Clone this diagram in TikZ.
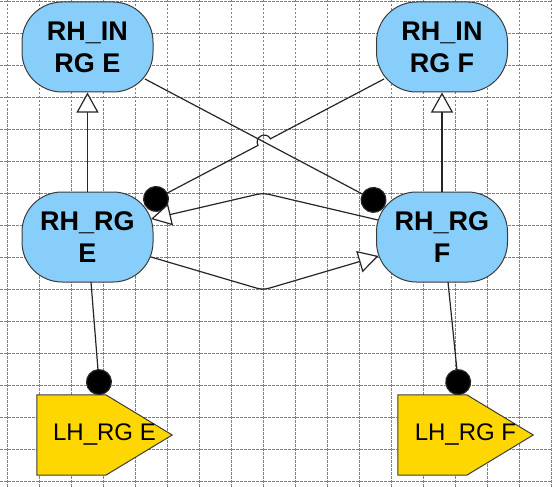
\documentclass[tikz,border=0pt]{standalone}
\usepackage{fontspec}
\setmainfont{Liberation Sans}
\usetikzlibrary{arrows.meta,calc,backgrounds}
\definecolor{rhblue}{RGB}{135,206,250}
\definecolor{lhgold}{RGB}{255,215,0}
\definecolor{edgegray}{RGB}{60,60,60}
\begin{document}
\begin{tikzpicture}[x=1pt,y=-1pt,
  rhbox/.style={draw=edgegray, line width=1pt, fill=rhblue, rounded corners=40pt,
    minimum width=131pt, minimum height=90pt, inner sep=0pt, align=center,
    font=\fontsize{27}{32}\selectfont\bfseries},
  lhbox/.style={minimum width=135pt, minimum height=80pt, inner sep=0pt,
    font=\fontsize{24}{28}\selectfont},
  lhshape/.style={fill=lhgold, draw=edgegray, line width=1pt},
  link/.style={draw=black!85, line width=1.2pt},
  gen/.style={link, -{Triangle[length=20pt,width=22pt,fill=white]}},
  dotend/.style={link, -{Circle[length=26pt,fill=black]}},
  gridline/.style={gray, line width=0.8pt, dash pattern=on 2.5pt off 1.5pt}]
\useasboundingbox (0,0) rectangle (552,487);
\begin{scope}[on background layer]
  \fill[white] (0,0) rectangle (552,487);
  \foreach \x in {7,39,...,551} \draw[gridline] (\x,0) -- (\x,487);
  \foreach \y in {1,33,...,481} \draw[gridline] (0,\y) -- (552,\y);
\end{scope}

% nodes
\node[rhbox] (rie) at (87.5,47) {RH\_IN\\RG E};
\node[rhbox] (rif) at (442,47) {RH\_IN\\RG F};
\node[rhbox] (rre) at (87.5,237) {RH\_RG\\E};
\node[rhbox] (rrf) at (442,237) {RH\_RG\\F};
\node[lhbox] (lhe) at (104.5,435) {LH\_RG E};
\node[lhbox] (lhf) at (465.5,435) {LH\_RG F};

\begin{scope}[on background layer]
  \draw[lhshape] (lhe.north west) -- ($(lhe.north west)+(69,0)$) -- (lhe.east)
    -- ($(lhe.south west)+(69,0)$) -- (lhe.south west) -- cycle;
  \draw[lhshape] (lhf.north west) -- ($(lhf.north west)+(69,0)$) -- (lhf.east)
    -- ($(lhf.south west)+(69,0)$) -- (lhf.south west) -- cycle;
\end{scope}

% coordinates
\coordinate (l1s) at ($(rie.center)+(57.5,32)$);
\coordinate (l1e) at ($(rrf.center)+(-57,-31)$);
\coordinate (l2s) at ($(rif.center)+(-58,32)$);
\coordinate (l2e) at ($(rre.center)+(57,-32)$);
\coordinate (hopA) at (270.4,138.8);
\coordinate (hopB) at (258.0,145.4);
\coordinate (b3) at (263,193);
\coordinate (b4) at (263,290);

% connectors
\draw[gen] (rre.north) -- (rie.south);
\draw[gen] (rrf.north) -- (rif.south);
\draw[dotend] (l1s) -- (l1e);
\draw[dotend] (l2s) -- (hopA) .. controls (266.1,130.6) and (253.7,137.2) .. (hopB) -- (l2e);
\draw[gen, rounded corners=6pt] ($(rrf.center)+(-64,-17)$) -- (b3) -- ($(rre.center)+(63.5,-18)$);
\draw[gen, rounded corners=6pt] ($(rre.center)+(63.5,20)$) -- (b4) -- ($(rrf.center)+(-63.5,19)$);
\draw[dotend] ($(rre.center)+(3.5,45)$) -- ($(lhe.center)+(-4.5,-40)$);
\draw[dotend] ($(rrf.center)+(6,45)$) -- ($(lhf.center)+(-6,-40)$);
\end{tikzpicture}
\end{document}
